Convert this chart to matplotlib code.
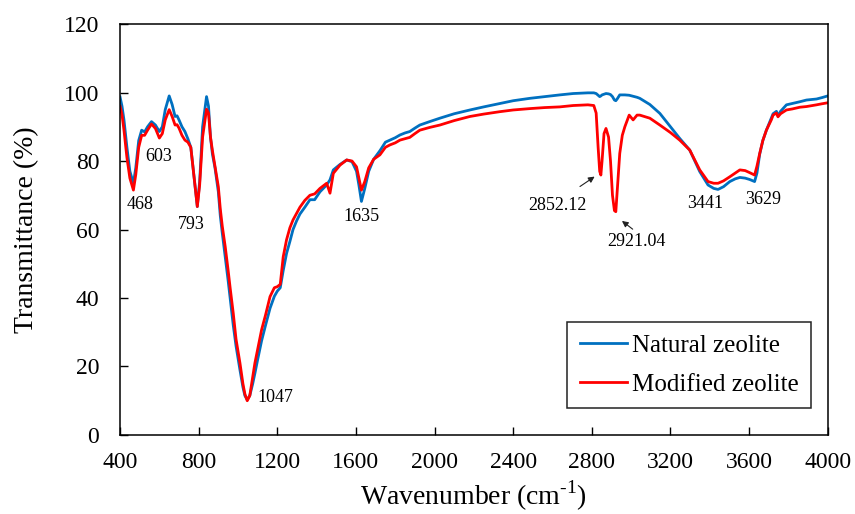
import matplotlib
matplotlib.use('Agg')
import matplotlib.pyplot as plt

# FTIR spectra of natural and modified zeolite
wavenumber = [400, 410, 420, 435, 450, 468, 480, 495, 510, 525, 540, 560, 580, 600, 615, 630,
              650, 665, 680, 690, 700, 715, 730, 745, 760, 775, 793, 805, 820, 840, 850, 860,
              870, 883, 900, 910, 920, 935, 950, 960, 976, 990, 1010, 1025, 1035, 1047, 1060,
              1075, 1086, 1100, 1120, 1140, 1163, 1185, 1200, 1215, 1230, 1247, 1264, 1280,
              1298, 1315, 1340, 1366, 1390, 1417, 1451, 1468, 1485, 1519, 1553, 1580, 1603,
              1615, 1628, 1645, 1665, 1690, 1722, 1750, 1773, 1800, 1824, 1850, 1874, 1900,
              1925, 1975, 2027, 2100, 2180, 2250, 2332, 2400, 2485, 2560, 2637, 2705, 2780,
              2810, 2822, 2832, 2840, 2846, 2852, 2862, 2872, 2885, 2895, 2905, 2915, 2922,
              2930, 2942, 2955, 2968, 2990, 3010, 3030, 3044, 3095, 3146, 3200, 3247, 3298,
              3349, 3391, 3420, 3442, 3470, 3502, 3530, 3553, 3580, 3603, 3628, 3640, 3654,
              3670, 3688, 3713, 3722, 3739, 3747, 3760, 3790, 3820, 3858, 3892, 3943, 3970, 4000]

natural = [98.7, 96, 92, 84, 77, 73.5, 78, 86, 89, 88.5, 90, 91.5, 90.5, 88.6, 90, 95,
           99, 96.5, 93, 93.2, 92, 90, 88.6, 86.5, 84, 76, 66.7, 74, 90, 98.8, 96, 87,
           82, 78, 71, 64, 59, 52, 45, 40, 32, 26, 19, 14, 11.5, 10.3, 11.5,
           15, 18, 22, 27.5, 32, 37, 40.5, 42, 43, 48, 53, 56.5, 60,
           62.5, 64.5, 66.5, 68.7, 68.7, 71, 73, 74.5, 77.4, 79, 80.3, 79.8, 77,
           73, 68.2, 72, 77, 80.5, 83, 85.5, 86.1, 86.8, 87.6, 88.2, 88.6, 89.6,
           90.5, 91.5, 92.5, 93.8, 94.9, 95.8, 96.8, 97.6, 98.3, 98.8, 99.3, 99.7, 99.9,
           99.9, 99.7, 99.2, 98.8, 99.0, 99.3, 99.5, 99.7, 99.6, 99.4, 98.8, 97.8, 97.6,
           98.2, 99.3, 99.3, 99.3, 99.2, 98.9, 98.6, 98.3, 96.5, 93.9, 90, 86.6, 83.2,
           76.9, 73, 72, 71.7, 72.5, 74, 74.8, 75.2, 75, 74.6, 74, 76.5, 82,
           86, 89, 92.5, 93.8, 94.5, 93.2, 94.5, 96.4, 96.8, 97.3, 97.8, 98.1, 98.5, 99.0]

modified = [96, 93.5, 89, 81, 75, 71.5, 76, 84, 87.5, 87.5, 89, 90.8, 89.5, 86.7, 88, 92,
            95, 93, 90.5, 90.6, 89.6, 87.5, 86.1, 85.5, 84, 76, 66.7, 73, 87, 95.1, 94, 87,
            83, 78.5, 72.5, 66, 61, 55, 48, 43, 35.5, 28, 21, 15, 12, 10.0, 11.5,
            17, 21, 25, 30.7, 35, 40.4, 43, 43.3, 44, 52, 57, 60.5, 62.8,
            64.7, 66.5, 68.5, 70, 70.4, 72, 73.5, 70.6, 76.4, 78.8, 80.3, 80, 78.3,
            75, 71.5, 74, 78, 80.5, 81.8, 84, 84.7, 85.3, 86.1, 86.5, 86.9, 88,
            89, 89.8, 90.5, 91.8, 93, 93.7, 94.4, 94.9, 95.3, 95.6, 95.8, 96.2, 96.4,
            96.2, 94, 84, 77, 75.9, 80, 88, 89.5, 87, 80, 70, 65.5, 65.2,
            72, 82.2, 87.5, 90, 93.4, 92, 93.4, 93.4, 92.5, 90.5, 88.3, 86.1, 83.2,
            77.4, 74, 73.5, 73.5, 74.2, 75.4, 76.5, 77.4, 77.2, 76.6, 75.9, 78.5, 82.2,
            86, 89, 92, 93.4, 94, 92.9, 93.8, 94.9, 95.2, 95.7, 95.9, 96.4, 96.7, 97.0]

# peak labels: text, x, y
peak_labels = [('468', 502, 67.2), ('603', 597, 81.3), ('793', 764, 61.6),
               ('1047', 1188, 11.0), ('1635', 1629, 63.7),
               ('3441', 3375, 67.7), ('3629', 3669, 68.9)]
# arrowed labels: text, text x, text y, arrow tail, arrow head
arrow_labels = [('2852.12', 2627, 66.9, (2728, 72.1), (2826, 75.9)),
                ('2921.04', 3027, 56.6, (3019, 59.6), (2942, 63.0))]

plt.rcParams['font.family'] = ['Liberation Serif', 'DejaVu Serif']
plt.rcParams['mathtext.fontset'] = 'custom'
plt.rcParams['mathtext.rm'] = 'Liberation Serif'

fig = plt.figure(figsize=(8.55, 5.14), dpi=100)
ax = fig.add_axes([0.1404, 0.1537, 0.8277, 0.7996])

ax.plot(wavenumber, natural, color='#0070C0', lw=2, label='Natural zeolite', solid_joinstyle='round')
ax.plot(wavenumber, modified, color='#FF0000', lw=2, label='Modified zeolite', solid_joinstyle='round')

for txt, x, y in peak_labels:
    ax.text(x, y, txt, fontsize=13, ha='center', va='center')
for txt, x, y, tail, head in arrow_labels:
    ax.text(x, y, txt, fontsize=13, ha='center', va='center')
    ax.annotate('', xy=head, xytext=tail,
                arrowprops=dict(arrowstyle='-|>', color='#222222', lw=0.8, mutation_scale=9))

ax.set_xlim(400, 4000)
ax.set_ylim(0, 120)
ax.set_xticks(range(400, 4001, 400))
ax.set_yticks(range(0, 121, 20))
ax.tick_params(direction='in', length=6, width=1, labelsize=17, color='black')
ax.tick_params(axis='x', pad=12)
ax.tick_params(axis='y', pad=15)
for s in ax.spines.values():
    s.set_linewidth(1.1)
    s.set_color('black')

ax.set_xlabel(r'Wavenumber (cm$^{\text{-1}}$)', fontsize=20, labelpad=4)
ax.set_ylabel('Transmittance (%)', fontsize=20, labelpad=18)

leg = ax.legend(loc='lower right', bbox_to_anchor=(0.977, 0.065), fontsize=18, fancybox=False,
                frameon=True, framealpha=1, edgecolor='#222222', handlelength=1.9,
                handletextpad=0.2, labelspacing=0.65, borderpad=0.5, borderaxespad=0)
leg.get_frame().set_linewidth(1.1)

fig.savefig('out.png', dpi=100)
